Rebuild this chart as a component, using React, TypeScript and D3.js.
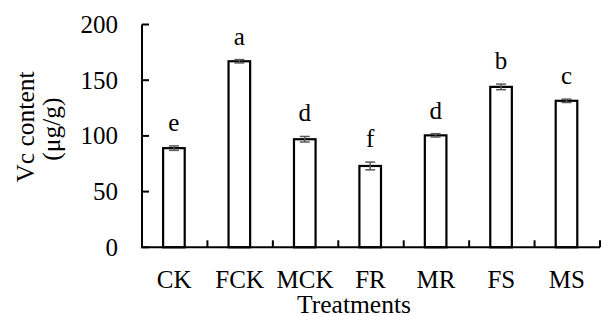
import * as d3 from "d3";

const WIDTH = 601;
const HEIGHT = 316;
const MARGIN = { top: 24.5, right: 1, bottom: 68.7, left: 142 };

const categories = ["CK", "FCK", "MCK", "FR", "MR", "FS", "MS"];
const values = [89, 167, 97, 73, 100.5, 144, 131.5];
const errors = [2, 1.5, 2.5, 3.5, 1.5, 2.5, 1.5];
const letters = ["e", "a", "d", "f", "d", "b", "c"];
const yTicks = [0, 50, 100, 150, 200];

const FONT = "'Liberation Serif', 'Times New Roman', serif";

export default function App() {
  const boundsWidth = WIDTH - MARGIN.left - MARGIN.right;
  const boundsHeight = HEIGHT - MARGIN.top - MARGIN.bottom;

  const xScale = d3
    .scaleBand<string>()
    .domain(categories)
    .range([0, boundsWidth])
    .padding(0);
  const yScale = d3.scaleLinear().domain([0, 200]).range([boundsHeight, 0]);

  const barWidth = xScale.bandwidth() * 0.33;
  const capWidth = 10;

  // bars, error bars and significance letters
  const bars = categories.map((c, i) => {
    const cx = (xScale(c) ?? 0) + xScale.bandwidth() / 2 - 0.8;
    const top = yScale(values[i]);
    const eTop = yScale(values[i] + errors[i]);
    const eBot = yScale(values[i] - errors[i]);
    return (
      <g key={c}>
        <rect
          x={cx - barWidth / 2}
          y={top}
          width={barWidth}
          height={boundsHeight - top}
          fill="#fff"
          stroke="#000"
          strokeWidth={2.2}
        />
        <line x1={cx} x2={cx} y1={eTop} y2={eBot} stroke="#595959" strokeWidth={1.5} />
        <line x1={cx - capWidth / 2} x2={cx + capWidth / 2} y1={eTop} y2={eTop} stroke="#595959" strokeWidth={1.5} />
        <line x1={cx - capWidth / 2} x2={cx + capWidth / 2} y1={eBot} y2={eBot} stroke="#595959" strokeWidth={1.5} />
        <text
          x={cx}
          y={eTop - 15}
          textAnchor="middle"
          fontFamily={FONT}
          fontSize={25}
          fill="#000"
        >
          {letters[i]}
        </text>
      </g>
    );
  });

  // category boundary ticks (inside)
  const xTickPositions = categories.map((c) => (xScale(c) ?? 0) + xScale.bandwidth());

  return (
    <svg
      width={WIDTH}
      height={HEIGHT}
      style={{ position: "absolute", left: 0, top: 0, background: "#fff" }}
    >
      <rect width={WIDTH} height={HEIGHT} fill="#fff" />
      <g transform={`translate(${MARGIN.left},${MARGIN.top})`}>
        {bars}
        {/* Y axis */}
        <line x1={0} x2={0} y1={0} y2={boundsHeight} stroke="#000" strokeWidth={2} />
        {yTicks.map((t) => (
          <g key={t} transform={`translate(0,${yScale(t)})`}>
            <line x1={0} x2={7} stroke="#000" strokeWidth={2} />
            <text
              x={-24}
              dy="0.34em"
              textAnchor="end"
              fontFamily={FONT}
              fontSize={25}
              fill="#000"
            >
              {t}
            </text>
          </g>
        ))}
        {/* X axis */}
        <line x1={-1} x2={boundsWidth} y1={boundsHeight} y2={boundsHeight} stroke="#000" strokeWidth={2} />
        {xTickPositions.map((x, i) => (
          <line key={i} x1={x} x2={x} y1={boundsHeight} y2={boundsHeight - 7} stroke="#000" strokeWidth={2} />
        ))}
        {categories.map((c) => (
          <text
            key={c}
            x={(xScale(c) ?? 0) + xScale.bandwidth() / 2 - 0.5}
            y={boundsHeight + 40.5}
            textAnchor="middle"
            fontFamily={FONT}
            fontSize={25}
            fill="#000"
          >
            {c}
          </text>
        ))}
      </g>
      {/* axis titles */}
      <text
        x={354}
        y={313}
        textAnchor="middle"
        fontFamily={FONT}
        fontSize={25.5}
        fill="#000"
      >
        Treatments
      </text>
      <text
        transform="translate(34,127) rotate(-90)"
        textAnchor="middle"
        fontFamily={FONT}
        fontSize={25.5}
        fill="#000"
      >
        Vc content
      </text>
      <text
        transform="translate(60,129) rotate(-90)"
        textAnchor="middle"
        fontFamily={FONT}
        fontSize={25.5}
        fill="#000"
      >
        (μg/g)
      </text>
    </svg>
  );
}
